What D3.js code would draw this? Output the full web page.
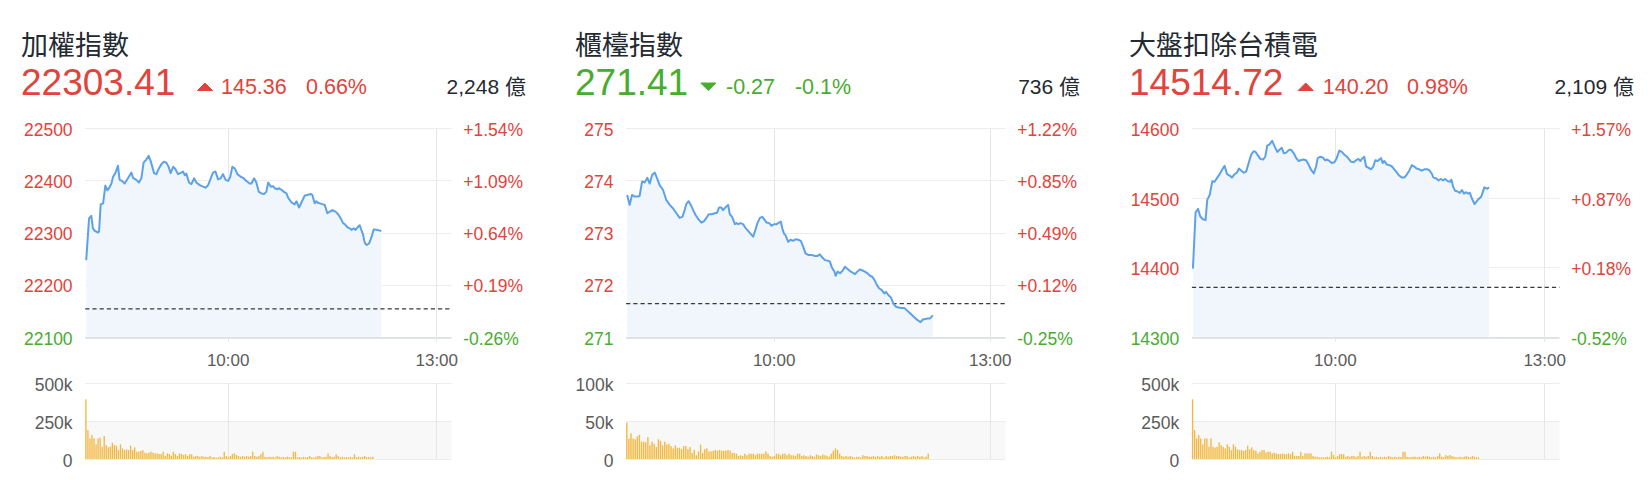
<!DOCTYPE html>
<html>
<head>
<meta charset="utf-8">
<script src="https://cdn.jsdelivr.net/npm/d3@7"></script>
<style>
  body { margin: 0; background: #fff; }
  svg { display: block; }
</style>
</head>
<body>
<div id="chart"></div>
<script>
// ---- data ----
const names = ["加權指數", "櫃檯指數", "大盤扣除台積電"];
const closes = ["22303.41", "271.41", "14514.72"];
const changes = ["145.36", "-0.27", "140.20"];
const changePcts = ["0.66%", "-0.1%", "0.98%"];
const turnovers = ["2,248 億", "736 億", "2,109 億"];
const prevCloses = [22158.05, 271.68, 14374.52];

const priceTicks = [
  [22100, 22200, 22300, 22400, 22500],
  [271, 272, 273, 274, 275],
  [14300, 14400, 14500, 14600]
];
const volumeTicks = [[0, 250, 500], [0, 50, 100], [0, 250, 500]]; // thousands
const timeTicks = [70, 172.5];          // slot positions on the intraday axis
const timeTickLabels = ["10:00", "13:00"];
const slotCount = 180;

// [slot, index value]
const taiexLine = [[0.5,22247],[1.9,22327],[3,22332],[3.8,22308],[4.7,22303],[6.3,22300],[6.8,22302],[7.6,22354],[8.8,22356],[9.9,22390],[10.9,22381],[11.7,22385],[12.9,22394],[13.7,22407],[14.8,22414],[16.1,22428],[16.9,22401],[18.1,22399],[19.4,22394],[21,22404],[22.7,22415],[23.5,22405],[25.1,22401],[26.4,22396],[27.6,22404],[28.7,22434],[30,22440],[31.2,22447],[32.2,22437],[33.8,22414],[35,22412],[36.1,22422],[37.4,22431],[38.7,22436],[39.9,22434],[41,22426],[42,22414],[43.2,22426],[44.3,22422],[45.6,22412],[47.2,22415],[48.1,22417],[48.9,22410],[49.7,22413],[51,22396],[52.2,22393],[53.5,22404],[54.6,22396],[56.3,22391],[57.9,22388],[59.2,22386],[60.4,22391],[61.7,22404],[62.8,22415],[64,22417],[65.3,22402],[66.6,22404],[67.7,22412],[69,22401],[70.2,22399],[71.3,22407],[72.3,22426],[73.5,22423],[74.8,22412],[76.4,22407],[77.6,22405],[79.2,22399],[80.8,22394],[81.7,22394],[83,22404],[84.1,22396],[85.3,22378],[86.6,22375],[87.9,22374],[89,22378],[89.9,22396],[91.2,22388],[92.3,22389],[93.1,22385],[94.3,22383],[95.3,22385],[96.4,22382],[97.7,22378],[98.9,22375],[99.7,22367],[101.3,22358],[102.9,22354],[103.8,22360],[105.1,22348],[106.2,22357],[107.9,22371],[109.2,22372],[110.7,22374],[111.6,22372],[112.8,22356],[113.6,22360],[114.4,22357],[116.1,22355],[117.7,22353],[119,22337],[120.2,22340],[121.5,22343],[123,22340],[124.3,22335],[125.6,22327],[126.7,22318],[127.5,22316],[128.9,22310],[130,22308],[130.8,22305],[132.1,22308],[132.8,22305],[134.1,22311],[134.9,22314],[135.7,22305],[136.6,22295],[137.4,22280],[138.3,22276],[139.5,22279],[140.5,22289],[141.8,22306],[143.5,22305],[145.5,22303]];

const tpexLine = [[0.5,273.72],[1.7,273.53],[2.8,273.72],[4.1,273.69],[5.6,273.69],[6.4,273.70],[7.6,273.98],[8.8,273.96],[10.1,274.05],[11.2,273.94],[12.3,274.10],[13.6,274.15],[14.7,274.04],[15.9,273.91],[17.5,273.82],[19.1,273.62],[20.7,273.53],[22.3,273.46],[23.9,273.37],[25.4,273.28],[26.7,273.30],[27.8,273.43],[28.6,273.55],[29.7,273.60],[30.7,273.53],[31.8,273.43],[32.9,273.34],[34.2,273.26],[35.7,273.19],[37,273.22],[38.1,273.28],[39.2,273.35],[40.5,273.35],[42.1,273.37],[43.2,273.38],[44.1,273.48],[45.2,273.48],[46,273.43],[47.1,273.48],[48.4,273.53],[49.2,273.35],[50.3,273.30],[51.6,273.16],[52.4,273.18],[53.2,273.16],[54.3,273.18],[55.5,273.16],[56.6,273.09],[57.9,273.03],[59.2,272.97],[60.3,272.92],[61.1,273.02],[62.3,273.18],[63.5,273.28],[64.6,273.30],[65.8,273.24],[66.6,273.19],[67.9,273.18],[69,273.13],[70.3,273.16],[71.4,273.16],[72.5,273.19],[73.4,273.21],[74.1,273.08],[74.9,272.98],[75.6,272.95],[76.9,272.82],[78,272.86],[79.3,272.84],[80.4,272.87],[81.7,272.86],[82.9,272.84],[84,272.73],[85.1,272.60],[86.4,272.57],[88,272.57],[89.6,272.55],[90.8,272.55],[91.9,272.58],[93.1,272.52],[94.3,272.47],[95.6,272.46],[96.7,272.44],[97.5,272.34],[98.8,272.25],[99.4,272.17],[100.3,272.25],[101.5,272.22],[102.6,272.26],[103.8,272.34],[105.1,272.30],[106.2,272.26],[107.5,272.23],[108.6,272.20],[109.7,272.25],[110.9,272.29],[112.2,272.27],[113.3,272.25],[114.4,272.22],[115.7,272.17],[116.8,272.15],[117.8,272.09],[118.9,272.00],[120,271.93],[121.2,271.90],[122.5,271.83],[123.3,271.86],[124.4,271.80],[125.7,271.75],[126.8,271.64],[127.9,271.58],[129.2,271.56],[130.8,271.55],[132,271.55],[133.1,271.51],[134.2,271.47],[135.5,271.42],[137.1,271.36],[138.2,271.32],[139.7,271.28],[140.8,271.33],[143,271.35],[144.2,271.35],[145.5,271.41]];

const exTsmcLine = [[0.5,14398],[1.8,14479],[3,14484],[4.1,14473],[5.4,14469],[6.7,14468],[7.5,14497],[8.7,14504],[10,14524],[11.1,14523],[12.4,14529],[13.6,14534],[14.7,14540],[16,14546],[17.2,14534],[18.5,14532],[19.6,14529],[20.9,14534],[22,14536],[23,14542],[24.2,14539],[25.5,14536],[26.6,14538],[27.9,14551],[29,14562],[30.2,14567],[31.2,14566],[32.3,14561],[33.5,14556],[34.8,14555],[35.9,14559],[36.9,14575],[38,14577],[39.3,14582],[40.5,14574],[41.8,14566],[42.9,14569],[44,14572],[45,14564],[46.2,14565],[47.5,14569],[48.6,14569],[49.9,14564],[51.1,14557],[52.2,14553],[53.2,14554],[54.6,14555],[55.9,14554],[57.1,14548],[58.4,14540],[59.7,14535],[60.8,14545],[61.6,14557],[62.8,14559],[64.1,14558],[65.2,14554],[66.2,14555],[67.3,14553],[68.5,14550],[69.8,14551],[70.9,14557],[72.2,14568],[73.4,14566],[74.7,14562],[76,14559],[77.1,14555],[77.9,14552],[79.2,14551],[80.4,14554],[81.5,14556],[82.5,14553],[83.6,14557],[84.4,14559],[85.3,14545],[86.6,14543],[87.7,14541],[88.8,14545],[89.8,14554],[91,14553],[91.8,14555],[92.6,14557],[93.4,14550],[94.2,14553],[95.4,14548],[96.7,14547],[98,14545],[99.1,14541],[100.2,14537],[101.5,14532],[102.9,14529],[104,14529],[105.1,14533],[106.4,14539],[107.7,14547],[108.9,14545],[110,14542],[111.3,14541],[112.6,14539],[113.8,14541],[115.1,14541],[116.2,14540],[117.4,14535],[118.3,14529],[119.5,14528],[120.8,14525],[121.9,14527],[123,14525],[124,14527],[125.2,14524],[126.3,14523],[127.1,14526],[127.9,14516],[128.9,14510],[130.1,14509],[131.2,14507],[132.2,14511],[133.3,14506],[134.1,14508],[135.3,14506],[136.1,14507],[137.1,14499],[138.4,14491],[140.3,14498],[141.6,14501],[143.2,14515],[144.5,14513],[145.5,14515]];

// volume per slot, in thousands
const taiexVolume = [394,191,136,158,136,97,136,141,81,152,92,77,81,108,92,88,59,97,70,59,64,59,88,59,77,48,48,53,59,42,37,42,48,42,37,37,33,33,48,20,37,33,22,48,33,20,37,33,26,33,20,31,31,15,20,20,15,20,15,15,13,20,11,13,9,11,15,11,48,20,11,20,33,37,26,20,15,20,15,20,15,20,48,20,15,20,33,48,15,11,15,13,15,11,20,15,11,13,11,15,13,11,48,48,11,13,9,15,11,13,20,11,9,15,20,20,11,13,15,37,20,13,15,31,20,11,15,11,13,11,15,11,31,11,15,11,15,20,11,13,11,15];
const tpexVolume = [48,27,34,27,26,30,32,23,23,22,29,18,23,20,16,26,24,18,23,19,20,17,14,18,15,15,13,17,17,13,16,8,12,5,10,19,8,13,14,10,10,11,12,11,12,11,11,11,12,11,8,8,7,4,5,4,7,5,7,7,7,5,7,7,7,7,10,7,4,3,4,7,7,5,7,7,5,7,5,5,4,7,7,4,5,4,3,5,4,3,6,5,4,6,5,4,3,7,11,14,12,7,4,3,4,3,4,3,2,3,3,2,5,4,4,3,3,4,3,4,3,4,2,4,3,4,4,5,4,4,3,3,4,4,2,3,4,3,4,3,4,2,3,7];
const exTsmcVolume = [394,191,136,158,136,97,136,136,81,136,81,75,81,110,92,81,70,97,81,59,97,81,64,59,59,53,59,88,64,77,59,53,37,48,59,59,42,48,48,37,42,37,33,33,37,33,31,37,31,48,20,20,20,48,20,37,37,37,37,20,15,15,11,11,11,11,15,11,48,26,11,20,31,33,31,15,20,15,20,20,15,20,48,15,20,15,20,48,20,11,15,11,15,11,15,11,20,15,11,15,11,15,13,48,48,15,11,13,15,15,11,15,11,20,15,20,15,11,15,11,20,37,15,11,26,20,26,20,15,13,11,15,11,15,20,15,11,20,15,11,11];

const lines = [taiexLine, tpexLine, exTsmcLine];
const volumes = [taiexVolume, tpexVolume, exTsmcVolume];

// ---- layout / style ----
const W = 1650, H = 480;
const panelX = [21, 575, 1129];
const plotLeftOff = [64.2, 51.1, 62.9];
const plotRightOff = 430.5;
const headerOff = [   // triangle, change, percent
  [176.5, 200, 285],
  [125.8, 151, 219.9],
  [169.2, 193.8, 278]
];
const priceTop = 128.3, priceBottom = 336.7;
const volTop = 383.3, volBottom = 459;
const refLineShift = 2.4; // the reference dashed line sits slightly below the scale value

const red = "#e2433b", green = "#47ac2f";
const latin = "'Liberation Sans', Arial, Helvetica, sans-serif";
const cjk = "'Noto Sans CJK TC', 'Liberation Sans', sans-serif";
const mixed = "'Liberation Sans', 'Noto Sans CJK TC', sans-serif";

const svg = d3.select("#chart").append("svg")
  .attr("width", W)
  .attr("height", H);

function drawPanel(p) {
  const x0 = panelX[p];
  const left = x0 + plotLeftOff[p];
  const right = x0 + plotRightOff;
  const prev = prevCloses[p];
  const data = lines[p];
  const up = +changes[p] >= 0;
  const mainColor = up ? red : green;
  const g = svg.append("g");

  const x = d3.scaleLinear().domain([0, slotCount]).range([left, right]);
  const y = d3.scaleLinear().domain(d3.extent(priceTicks[p])).range([priceBottom, priceTop]);
  const yv = d3.scaleLinear().domain(d3.extent(volumeTicks[p])).range([volBottom, volTop]);
  const tickColor = d => d >= prev ? red : green;
  const crisp = v => Math.round(v) + 0.5;

  // header
  g.append("text")
    .attr("x", x0).attr("y", 55)
    .attr("font-family", cjk).attr("font-size", 27)
    .attr("fill", "#232a31")
    .text(names[p]);

  g.append("text")
    .attr("x", x0).attr("y", 95)
    .attr("font-family", latin).attr("font-size", 37)
    .attr("fill", mainColor)
    .text(closes[p]);

  const tx = x0 + headerOff[p][0];
  const tri = up
    ? `M${tx},90.5 L${tx + 15},90.5 L${tx + 7.5},83 Z`
    : `M${tx},83 L${tx + 15},83 L${tx + 7.5},90.5 Z`;
  g.append("path").attr("d", tri).attr("fill", mainColor)
    .attr("stroke", mainColor).attr("stroke-width", 1).attr("stroke-linejoin", "round");

  g.append("text")
    .attr("x", x0 + headerOff[p][1]).attr("y", 94.3)
    .attr("font-family", latin).attr("font-size", 21.5)
    .attr("fill", mainColor)
    .text(changes[p]);

  g.append("text")
    .attr("x", x0 + headerOff[p][2]).attr("y", 94.3)
    .attr("font-family", latin).attr("font-size", 21.5)
    .attr("fill", mainColor)
    .text(changePcts[p]);

  g.append("text")
    .attr("x", x0 + 505).attr("y", 94.3)
    .attr("text-anchor", "end")
    .attr("font-family", mixed).attr("font-size", 21)
    .attr("fill", "#232a31")
    .text(turnovers[p]);

  // price grid
  g.append("g").selectAll("line")
    .data(priceTicks[p])
    .join("line")
    .attr("x1", left).attr("x2", right)
    .attr("y1", d => crisp(y(d))).attr("y2", d => crisp(y(d)))
    .attr("stroke", "#ededed");

  g.append("line")
    .attr("x1", left).attr("x2", right)
    .attr("y1", priceBottom + 1.2).attr("y2", priceBottom + 1.2)
    .attr("stroke", "#d9dcdf").attr("stroke-width", 1.5);

  g.append("g").selectAll("line")
    .data(timeTicks)
    .join("line")
    .attr("x1", d => crisp(x(d))).attr("x2", d => crisp(x(d)))
    .attr("y1", priceTop).attr("y2", priceBottom + 5)
    .attr("stroke", "#e6e6e6");

  // area + line
  const area = d3.area()
    .x(d => x(d[0]))
    .y0(priceBottom)
    .y1(d => y(d[1]));
  const line = d3.line()
    .x(d => x(d[0]))
    .y(d => y(d[1]));

  g.append("path").datum(data)
    .attr("d", area)
    .attr("fill", "#f1f6fc");

  g.append("line")
    .attr("x1", left).attr("x2", right)
    .attr("y1", y(prev) + refLineShift).attr("y2", y(prev) + refLineShift)
    .attr("stroke", "#3a3a3a").attr("stroke-width", 1.3)
    .attr("stroke-dasharray", "4.2,3");

  g.append("path").datum(data)
    .attr("d", line)
    .attr("fill", "none")
    .attr("stroke", "#5da2e8")
    .attr("stroke-width", 2)
    .attr("stroke-linejoin", "round");

  // axes
  g.append("g")
    .attr("transform", `translate(${left},0)`)
    .call(d3.axisLeft(y).tickValues(priceTicks[p]).tickSize(0).tickPadding(12.6).tickFormat(d3.format("d")))
    .call(a => a.select(".domain").remove())
    .attr("font-family", latin).attr("font-size", 17.5)
    .call(a => a.selectAll("text").attr("dy", "0.42em").attr("fill", tickColor));

  g.append("g")
    .attr("transform", `translate(${right},0)`)
    .call(d3.axisRight(y).tickValues(priceTicks[p]).tickSize(0).tickPadding(11.8)
      .tickFormat(d => {
        const v = (d - prev) / prev * 100;
        return (v >= 0 ? "+" : "") + v.toFixed(2) + "%";
      }))
    .call(a => a.select(".domain").remove())
    .attr("font-family", latin).attr("font-size", 17.5)
    .call(a => a.selectAll("text").attr("dy", "0.42em").attr("fill", tickColor));

  g.append("g")
    .attr("transform", `translate(0,365.5)`)
    .call(d3.axisBottom(x).tickValues(timeTicks).tickSize(0).tickFormat((d, i) => timeTickLabels[i]))
    .call(a => a.select(".domain").remove())
    .attr("font-family", latin).attr("font-size", 17)
    .call(a => a.selectAll("text").attr("y", 0).attr("dy", null).attr("fill", "#5b5b5b"));

  // volume panel
  g.append("rect")
    .attr("x", left).attr("width", right - left)
    .attr("y", yv(volumeTicks[p][1])).attr("height", volBottom - yv(volumeTicks[p][1]))
    .attr("fill", "#f8f8f8");

  g.append("g").selectAll("line")
    .data(volumeTicks[p])
    .join("line")
    .attr("x1", left).attr("x2", right)
    .attr("y1", d => crisp(yv(d))).attr("y2", d => crisp(yv(d)))
    .attr("stroke", "#ececec");

  g.append("g").selectAll("line")
    .data(timeTicks)
    .join("line")
    .attr("x1", d => crisp(x(d))).attr("x2", d => crisp(x(d)))
    .attr("y1", volTop).attr("y2", volBottom)
    .attr("stroke", "#e6e6e6");

  const slotW = x(1) - x(0);
  g.append("g").selectAll("rect")
    .data(volumes[p])
    .join("rect")
    .attr("x", (d, i) => x(i))
    .attr("width", slotW * 0.66)
    .attr("y", d => yv(d))
    .attr("height", d => volBottom - yv(d))
    .attr("fill", "#f4b740");

  g.append("g")
    .attr("transform", `translate(${left},0)`)
    .call(d3.axisLeft(yv).tickValues(volumeTicks[p]).tickSize(0).tickPadding(12.6)
      .tickFormat(d => d === 0 ? "0" : d + "k"))
    .call(a => a.select(".domain").remove())
    .attr("font-family", latin).attr("font-size", 17.5)
    .call(a => a.selectAll("text").attr("dy", "0.42em").attr("fill", "#5b5b5b"));
}

[0, 1, 2].forEach(drawPanel);
</script>
</body>
</html>
